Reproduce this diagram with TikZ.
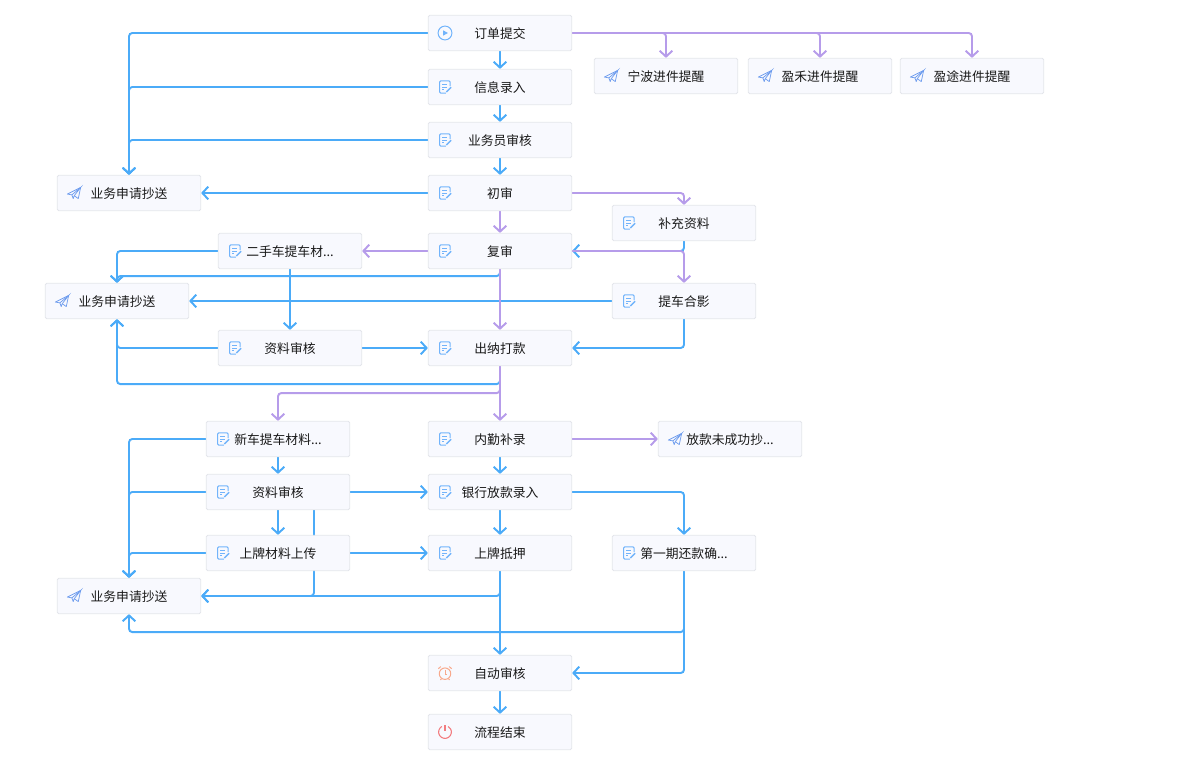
\documentclass[tikz,border=0pt]{standalone}
\usepackage{fontspec}
\usepackage{tikz}
\setmainfont{Noto Sans CJK SC}
\usetikzlibrary{arrows.meta,backgrounds}
\definecolor{flowblue}{HTML}{4BABF8}
\definecolor{flowpurple}{HTML}{B69CEA}
\definecolor{boxfill}{HTML}{F8F9FE}
\definecolor{boxline}{HTML}{E3E5EB}
\definecolor{docblue}{HTML}{72B4FB}
\definecolor{sendblue}{HTML}{6F9DEE}
\definecolor{clockorange}{HTML}{F8A98C}
\definecolor{powerred}{HTML}{F27C80}
\tikzset{
  box/.style={draw=boxline,fill=boxfill,line width=0.6pt,rounded corners=1pt,minimum width=107.5pt,minimum height=26.5pt,inner sep=0pt,font=\fontsize{9.6pt}{11pt}\selectfont,text=black!90,text height=9.7pt,text depth=1pt},
  blueflow/.style={->,draw=flowblue,line width=1.45pt,rounded corners=2.5pt},
  purpleflow/.style={->,draw=flowpurple,line width=1.45pt,rounded corners=2.5pt},
  icondoc/.pic={
    \draw[docblue,line width=0.75pt,rounded corners=0.8pt] (3.8,0.6) -- (3.8,4.6) -- (-4,4.6) -- (-4,-4.6) -- (0.6,-4.6);
    \draw[docblue,line width=0.7pt] (-2.2,2.2) -- (1.8,2.2) (-2.2,0) -- (1.2,0) (-2.2,-2.2) -- (-0.4,-2.2);
    \draw[docblue,line width=1.1pt] (1,-3.8) -- (4.6,-0.2);
  },
  iconsend/.pic={
    \draw[sendblue,line width=0.55pt,line join=round] (-5,-0.8) -- (5,4.2) -- (3.2,-4.2) -- (0.2,-2) -- (-0.6,-4.2) -- (-1.6,-1.4) -- cycle;
    \draw[sendblue,line width=0.55pt] (-1.6,-1.4) -- (5,4.2) -- (0.2,-2);
  },
  iconplay/.pic={
    \draw[docblue,line width=0.75pt] (0,0) circle (5.2);
    \fill[docblue] (-1.4,2) -- (2.2,0) -- (-1.4,-2) -- cycle;
  },
  iconclock/.pic={
    \draw[clockorange,line width=0.75pt] (0,-0.5) circle (4.3);
    \draw[clockorange,line width=0.75pt] (0,2) -- (0,-0.8) -- (1.8,-0.8);
    \draw[clockorange,line width=0.75pt] (-5,3.2) -- (-3.2,4.8) (5,3.2) -- (3.2,4.8);
    \draw[clockorange,line width=0.75pt] (-2.6,-4.2) -- (-3.4,-5.2) (2.6,-4.2) -- (3.4,-5.2);
  },
  iconpower/.pic={
    \draw[powerred,line width=0.8pt] (120:4.8) arc[start angle=120,end angle=420,radius=4.8];
    \draw[powerred,line width=0.9pt] (0,5) -- (0,0.4);
  }
}

\begin{document}
\begin{tikzpicture}[>={Straight Barb[length=4.4pt,width=9.5pt]},x=1pt,y=1pt]
\useasboundingbox (0,0) rectangle (897,-577.5);
\node[box] (n0) at (375,-24.75) {订单提交};
\node[box,below of=n0,node distance=40.5pt] (n1) {信息录入};
\node[box,below of=n1,node distance=39.75pt] (n2) {业务员审核};
\node[box,below of=n2,node distance=39.75pt] (n3) {初审};
\node[box,below of=n3,node distance=43.5pt] (n4) {复审};
\node[box,below of=n4,node distance=72.75pt] (n5) {出纳打款};
\node[box,below of=n5,node distance=68.25pt] (n6) {内勤补录};
\node[box,below of=n6,node distance=39.75pt] (n7) {银行放款录入};
\node[box,below of=n7,node distance=45.75pt] (n8) {上牌抵押};
\node[box,below of=n8,node distance=90pt] (n9) {自动审核};
\node[box,below of=n9,node distance=44.25pt] (n10) {流程结束};
\node[box,right of=n0,node distance=124.5pt,yshift=-32.25pt] (n11) {宁波进件提醒};
\node[box,right of=n11,node distance=115.5pt] (n12) {盈禾进件提醒};
\node[box,right of=n12,node distance=114pt] (n13) {盈途进件提醒};
\node[box,left of=n3,node distance=278.25pt] (n14) {业务申请抄送};
\node[box,right of=n3,node distance=138pt,yshift=-22.5pt] (n15) {补充资料};
\node[box,left of=n4,node distance=157.5pt] (n16) {二手车提车材...};
\node[box,below of=n15,node distance=58.5pt] (n17) {提车合影};
\node[box,left of=n17,node distance=425.25pt] (n18) {业务申请抄送};
\node[box,left of=n5,node distance=157.5pt] (n19) {资料审核};
\node[box,right of=n6,node distance=172.5pt] (n20) {放款未成功抄...};
\node[box,left of=n6,node distance=166.5pt] (n21) {新车提车材料...};
\node[box,left of=n7,node distance=166.5pt] (n22) {资料审核};
\node[box,left of=n8,node distance=166.5pt] (n23) {上牌材料上传};
\node[box,right of=n8,node distance=138pt] (n24) {第一期还款确...};
\node[box,left of=n23,node distance=111.75pt,yshift=-32.25pt] (n25) {业务申请抄送};

\foreach \n in {n1,n2,n3,n4,n5,n6,n7,n8,n15,n16,n17,n19,n21,n22,n23,n24}
  \pic at ([xshift=-41.25pt]\n.center) {icondoc};
\foreach \n in {n11,n12,n13,n14,n18,n20,n25}
  \pic at ([xshift=-41.25pt]\n.center) {iconsend};
\pic at ([xshift=-41.25pt]n0.center) {iconplay};
\pic at ([xshift=-41.25pt]n9.center) {iconclock};
\pic at ([xshift=-41.25pt]n10.center) {iconpower};

\begin{scope}[on background layer]
\draw[blueflow] (n0.south) -- (n1.north);
\draw[blueflow] (n1.south) -- (n2.north);
\draw[blueflow] (n2.south) -- (n3.north);
\draw[blueflow] (n0.west) -| (n14.north);
\draw[blueflow] (n1.west) -| (n14.north);
\draw[blueflow] (n2.west) -| (n14.north);
\draw[blueflow] (n3.west) -- (n14.east);
\draw[blueflow] (n15.south) |- (n4.east);
\draw[blueflow] (n16.west) -| (n18.north);
\draw[blueflow] (n4.south) -- ++(0,-5.25) -| (n18.north);
\draw[blueflow] (n16.south) -- (n19.north);
\draw[blueflow] (n17.west) -- (n18.east);
\draw[blueflow] (n17.south) |- (n5.east);
\draw[blueflow] (n19.east) -- (n5.west);
\draw[blueflow] (n19.west) -| (n18.south);
\draw[blueflow] (n5.south) -- ++(0,-13.5) -| (n18.south);
\draw[blueflow] (n21.south) -- (n22.north);
\draw[blueflow] (n22.south) -- (n23.north);
\draw[blueflow] (n21.west) -| (n25.north);
\draw[blueflow] (n22.west) -| (n25.north);
\draw[blueflow] (n23.west) -| (n25.north);
\draw[blueflow] ([xshift=27pt]n22.south) |- (n25.east);
\draw[blueflow] (n22.east) -- (n7.west);
\draw[blueflow] (n23.east) -- (n8.west);
\draw[blueflow] (n6.south) -- (n7.north);
\draw[blueflow] (n7.south) -- (n8.north);
\draw[blueflow] (n7.east) -| (n24.north);
\draw[blueflow] (n8.south) |- (n25.east);
\draw[blueflow] (n8.south) -- (n9.north);
\draw[blueflow] (n24.south) -- ++(0,-45.75) -| (n25.south);
\draw[blueflow] (n24.south) |- (n9.east);
\draw[blueflow] (n9.south) -- (n10.north);
\draw[purpleflow] (n0.east) -| (n11.north);
\draw[purpleflow] (n0.east) -| (n12.north);
\draw[purpleflow] (n0.east) -| (n13.north);
\draw[purpleflow] (n3.east) -| (n15.north);
\draw[purpleflow] (n3.south) -- (n4.north);
\draw[purpleflow] (n4.west) -- (n16.east);
\draw[purpleflow] (n4.east) -| (n17.north);
\draw[purpleflow] (n4.south) -- (n5.north);
\draw[purpleflow] (n5.south) -- (n6.north);
\draw[purpleflow] (n5.south) -- ++(0,-20.25) -| (n21.north);
\draw[purpleflow] (n6.east) -- (n20.west);
\end{scope}
\end{tikzpicture}
\end{document}
